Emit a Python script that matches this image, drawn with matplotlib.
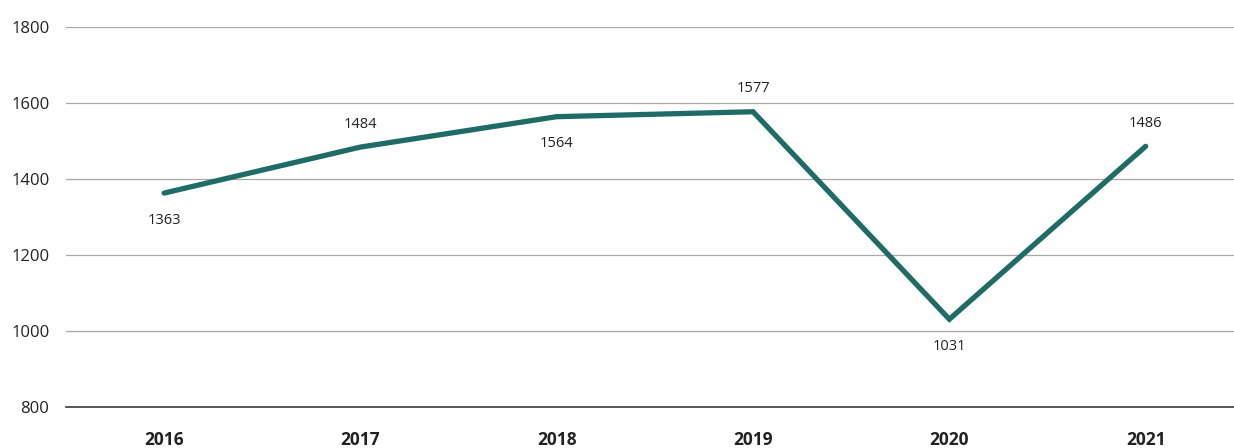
import matplotlib
matplotlib.use("Agg")
import matplotlib.pyplot as plt

years = ["2016", "2017", "2018", "2019", "2020", "2021"]
values = [1363, 1484, 1564, 1577, 1031, 1486]
label_above = [False, True, False, True, False, True]
yticks = [800, 1000, 1200, 1400, 1600, 1800]

LINE = "#1f6b66"
plt.rcParams["font.family"] = ["Open Sans", "DejaVu Sans"]

fig = plt.figure(figsize=(12.34, 4.48), dpi=100)
ax = fig.add_axes([66 / 1234, 41 / 448, 1 - 66 / 1234, 380 / 448])

x = list(range(len(years)))
ax.plot(x, values, color=LINE, lw=3.8, solid_capstyle="round", solid_joinstyle="miter", zorder=3)

for xi, v, up in zip(x, values, label_above):
    ax.annotate(str(v), (xi, v), xytext=(0, 11 if up else -14), textcoords="offset points",
                ha="center", va="bottom" if up else "top", fontsize=10.5, color="#222222")

ax.set_ylim(800, 1800)
ax.set_xlim(-0.5, 5.45)
ax.set_yticks(yticks)
ax.set_yticklabels([str(t) for t in yticks], fontsize=12, color="#222222")
ax.set_xticks(x)
ax.set_xticklabels(years, fontsize=12.5, fontweight="bold", color="#222222")
ax.tick_params(axis="both", length=0)
ax.tick_params(axis="y", pad=12)
ax.tick_params(axis="x", pad=17)

ax.grid(axis="y", color="#a8a8a8", lw=0.9)
ax.set_axisbelow(True)
for s in ["top", "right", "left"]:
    ax.spines[s].set_visible(False)
ax.spines["bottom"].set_color("#4a4a4a")
ax.spines["bottom"].set_linewidth(1.3)

fig.savefig("out.png", dpi=100)
